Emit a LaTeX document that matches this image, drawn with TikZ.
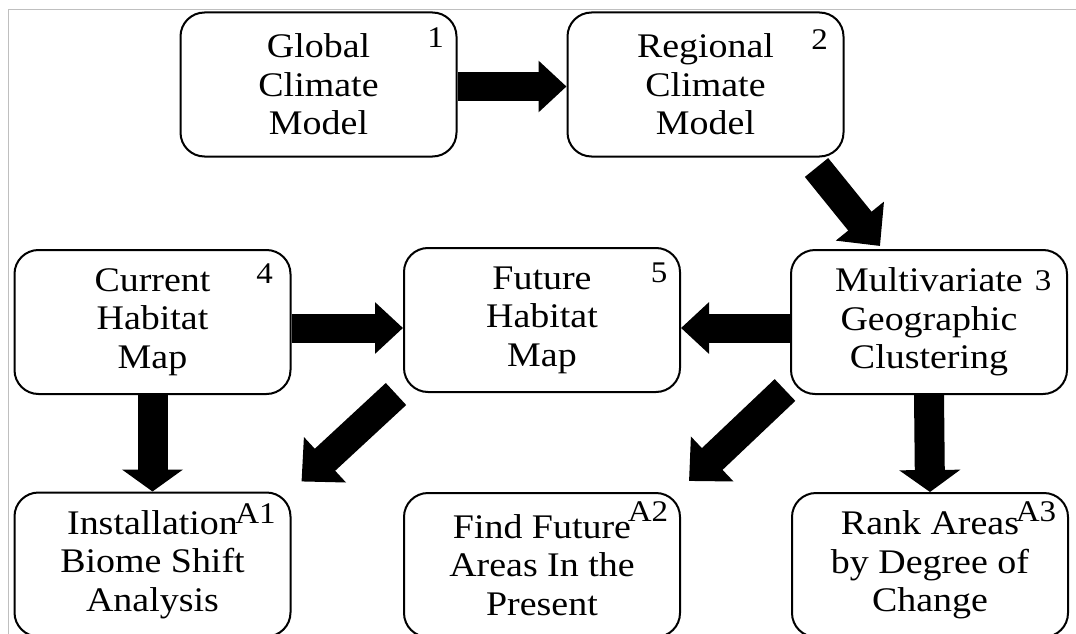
\documentclass[tikz,border=0pt]{standalone}
\usepackage{fontspec}
\setmainfont{Liberation Serif}[FakeStretch=1.1]
\usetikzlibrary{arrows.meta,calc}
\begin{document}
\begin{tikzpicture}[x=1pt,y=-1pt,
  box/.style={draw, line width=2pt, rounded corners=24pt, minimum width=276pt, minimum height=144pt,
    align=center, inner sep=0pt, font=\fontsize{34.5}{38.5}\selectfont},
  num/.style={inner sep=0pt, font=\fontsize{30}{30}\selectfont},
  bigarrow/.style={line width=29pt, -{Triangle[length=28pt,width=50pt]}},
  downarrow/.style={line width=30pt, -{Triangle[length=22pt,width=60pt]}},
  diagarrow/.style={line width=30pt, -{Triangle[length=32pt,width=60pt]}},
]
\useasboundingbox (0,0) rectangle (1076,634);
\clip (0,0) rectangle (1076,634);
\draw[black!25, line width=1pt] (8,634) -- (8,10) -- (1076,10);

\node[box] (n1) at (318.5,84.5) {Global\\Climate\\Model};
\node[box] (n2) at (705.5,84.5) {Regional\\Climate\\Model};
\node[box] (n4) at (152.5,322) {Current\\Habitat\\Map};
\node[box] (n5) at (542,320) {Future\\Habitat\\Map};
\node[box] (n3) at (929,322) {Multivariate\\Geographic\\Clustering};
\node[box] (a1) at (152.5,564.5) {Installation\\Biome Shift\\Analysis};
\node[box] (a2) at (542,565) {Find Future\\Areas In the\\Present};
\node[box] (a3) at (930,565) {Rank Areas\\by Degree of\\Change};

\node[num] (l1) at ($(n1.north east)+(-22,26)$) {1};
\node[num] (l2) at ($(n2.north east)+(-25,28)$) {2};
\node[num] (l4) at ($(n4.north east)+(-27,25)$) {4};
\node[num] (l5) at ($(n5.north east)+(-22,26)$) {5};
\node[num] (l3) at ($(n3.north east)+(-25,32)$) {3};
\node[num] (la1) at ($(a1.north east)+(-36,22)$) {A1};
\node[num] (la2) at ($(a2.north east)+(-33,20)$) {A2};
\node[num] (la3) at ($(a3.north east)+(-33,20)$) {A3};

\coordinate (s23) at ($(n2.south east)+(-28,10)$);
\coordinate (e23) at ($(n3.north)+(-49,-3)$);
\coordinate (s5a) at ($(n5.south west)+(-7,1)$);
\coordinate (e5a) at ($(a1.north east)+(10,-10)$);
\coordinate (s3a) at ($(n3.south west)+(-5,-5)$);
\coordinate (e3a) at ($(a2.north east)+(8,-11)$);

\draw[bigarrow] ([yshift=-2pt]n1.east) -- ([yshift=-2pt]n1.east -| n2.west);
\draw[diagarrow] (s23) -- (e23);
\draw[bigarrow] ([yshift=-6pt]n4.east) -- ([yshift=-6pt]n4.east -| n5.west);
\draw[bigarrow] ([yshift=-6pt]n3.west) -- ([yshift=-6pt]n3.west -| n5.east);
\draw[downarrow] (n4.south) -- (a1.north);
\draw[downarrow] (n3.south) -- (a3.north);
\draw[diagarrow] (s5a) -- (e5a);
\draw[diagarrow] (s3a) -- (e3a);
\end{tikzpicture}
\end{document}
